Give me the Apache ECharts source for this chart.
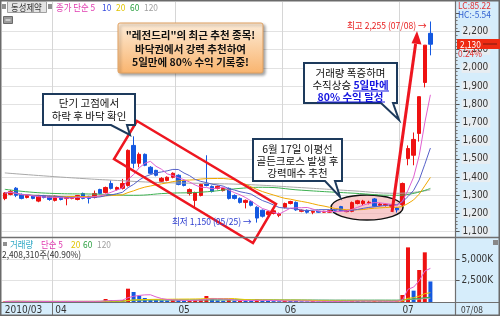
<!DOCTYPE html>
<html><head><meta charset="utf-8">
<script src="https://cdn.jsdelivr.net/npm/echarts@6/dist/echarts.min.js"></script>
<style>html,body{margin:0;padding:0;background:#fff}#c{width:500px;height:316px}</style>
</head><body><div id="c"></div><script>
// ---------- data ----------
const dates = ['03/19','03/22','03/23','03/24','03/25','03/26','03/29','03/30','03/31',
 '04/01','04/02','04/05','04/06','04/07','04/08','04/09','04/12','04/13','04/14','04/15','04/16','04/19','04/20','04/21','04/22','04/23','04/26','04/27','04/28','04/29','04/30',
 '05/03','05/04','05/06','05/07','05/10','05/11','05/12','05/13','05/14','05/17','05/18','05/19','05/20','05/24','05/25','05/26','05/27','05/28','05/31',
 '06/01','06/03','06/04','06/07','06/08','06/09','06/10','06/11','06/14','06/15','06/16','06/17','06/18','06/21','06/22','06/23','06/24','06/25','06/28','06/29','06/30',
 '07/01','07/02','07/05','07/06','07/07','07/08'];
const opens  = [1282,1305,1339,1305,1288,1299,1268,1299,1294,1272,1290,1282,1283,1277,1310,1294,1288,1332,1315,1365,1332,1338,1354,1574,1476,1525,1454,1437,1377,1382,1399,1410,1382,1310,1272,1299,1365,1349,1338,1326,1338,1299,1283,1261,1266,1234,1218,1195,1200,1190,1234,1255,1261,1212,1218,1207,1212,1207,1207,1215,1238,1210,1212,1255,1255,1258,1280,1245,1245,1240,1230,1250,1502,1520,1640,1920,2190];
const closes = [1313,1320,1300,1283,1299,1283,1299,1288,1277,1294,1277,1288,1290,1299,1283,1283,1310,1310,1343,1338,1343,1365,1547,1476,1525,1465,1421,1410,1393,1399,1421,1360,1354,1332,1315,1360,1354,1321,1349,1338,1283,1283,1261,1272,1245,1175,1185,1210,1215,1200,1255,1266,1220,1218,1207,1212,1207,1212,1215,1210,1215,1215,1260,1270,1268,1262,1240,1252,1250,1248,1220,1365,1557,1607,1842,2125,2130];
const highs  = [1318,1330,1345,1310,1302,1302,1302,1302,1299,1299,1294,1292,1294,1302,1315,1297,1326,1336,1348,1382,1348,1390,1552,1624,1535,1530,1460,1440,1400,1404,1426,1415,1388,1338,1320,1365,1520,1354,1354,1343,1343,1305,1288,1277,1272,1240,1222,1215,1220,1205,1260,1270,1266,1222,1222,1215,1215,1215,1218,1218,1242,1220,1266,1275,1275,1270,1285,1258,1255,1252,1235,1370,1574,1645,1842,2125,2255];
const lows   = [1273,1300,1290,1278,1283,1278,1262,1283,1270,1266,1272,1245,1278,1272,1278,1255,1283,1305,1310,1332,1326,1332,1348,1448,1454,1460,1415,1404,1371,1377,1393,1355,1349,1299,1228,1294,1349,1315,1332,1321,1277,1277,1255,1228,1239,1150,1178,1190,1195,1180,1228,1250,1215,1207,1200,1196,1204,1204,1204,1207,1212,1207,1207,1250,1245,1250,1236,1240,1238,1232,1205,1240,1465,1465,1595,1893,2069];
const volumes = [60,80,90,70,50,60,80,60,70,60,50,90,60,70,80,60,90,100,350,230,150,230,1560,1170,740,470,310,300,200,180,220,210,150,180,250,300,700,430,200,150,220,150,180,160,150,300,180,120,100,90,150,130,120,80,70,90,60,70,60,80,90,70,150,130,100,80,120,90,80,70,100,820,6400,1330,3750,5820,2408];
// 60- and 120-day averages (need history before the window)
const ma60Idx  = [0,8,17,23,29,35,42,46,53,62,70,76];
const ma60Val  = [1333,1311,1306,1300,1311,1317,1338,1344,1328,1312,1300,1338];
const ma120Idx = [0,11,21,28,36,44,53,62,70,76];
const ma120Val = [1423,1398,1380,1370,1365,1358,1342,1325,1311,1330];
const tickIdx  = [0,9,31,50,71];
const tickText = ['2010/03','04','05','06','07'];
const padCats  = ['_a','_b','_c','_d'];

// ---------- build ----------
const F = "'Noto Sans CJK KR','Noto Sans',sans-serif";
const FN = "'Liberation Sans Narrow','DejaVu Sans Condensed','Noto Sans CJK KR',sans-serif";
const cats = dates.concat(padCats);
const ohlc = dates.map((d,i)=>[opens[i],closes[i],lows[i],highs[i]]);
function ma(arr,n){return arr.map((_,i)=>{const s=Math.max(0,i-n+1);let t=0;for(let j=s;j<=i;j++)t+=arr[j];return +(t/(i-s+1)).toFixed(1);});}
const UP='#ee1111', DN='#1458e0';
const volData = volumes.map((v,i)=>({value:v,itemStyle:{color:(i>0&&v<volumes[i-1])?DN:UP}}));
const line=(name,data,color,xi,yi,extra)=>Object.assign({type:'line',name,data,xAxisIndex:xi,yAxisIndex:yi,symbol:'none',silent:true,lineStyle:{width:1,color},itemStyle:{color}},extra||{});
const monthSplit = (i)=>tickIdx.indexOf(i)>0;

const chart = echarts.init(document.getElementById('c'));
const t=(x,y,text,fill,size,o)=>{o=o||{};return Object.assign({type:'text',x,y,z:60,silent:true,scaleX:o.sx||1,style:Object.assign({text,fill,fontSize:size,fontFamily:o.ff||F,verticalAlign:'middle'},o.style||{})},o.el||{});};
const H={sx:0.88};

const graphic = [
  {type:'rect',z:-10,shape:{x:456,y:0,width:44,height:316},style:{fill:'#d6edfb'}},
  {type:'rect',z:-10,shape:{x:0,y:303,width:500,height:13},style:{fill:'#d6edfb'}},
  {type:'line',z:40,shape:{x1:0,y1:237.5,x2:500,y2:237.5},style:{stroke:'#707070',lineWidth:1.5}},
  {type:'line',z:40,shape:{x1:0,y1:302.5,x2:500,y2:302.5},style:{stroke:'#707070',lineWidth:1.2}},
  {type:'line',z:40,shape:{x1:455.5,y1:0,x2:455.5,y2:316},style:{stroke:'#707070',lineWidth:1.2}},
  {type:'line',z:40,shape:{x1:52.5,y1:303,x2:52.5,y2:316},style:{stroke:'#707070',lineWidth:1}},
  {type:'rect',z:40,shape:{x:0.75,y:0.75,width:498.5,height:314.5},style:{fill:'none',stroke:'#6a6a6a',lineWidth:1.5}},
  // header
  {type:'rect',z:55,shape:{x:2,y:4,width:4,height:5},style:{fill:'#909090'}},
  {type:'rect',z:55,shape:{x:7.5,y:1.5,width:39,height:11},style:{fill:'#e4e4e4',stroke:'#a0a0a0',lineWidth:1}},
  t(11,7.5,'동성제약','#333',9.5,H),
  {type:'rect',z:55,shape:{x:48,y:4,width:4,height:5},style:{fill:'#909090'}},
  t(56,7.5,'종가 단순 5','#e03cb0',9.5,H),
  t(102,7.5,'10','#3a4fe0',9.5,H),
  t(116,7.5,'20','#e0c400',9.5,H),
  t(130,7.5,'60','#2aa040',9.5,H),
  t(144,7.5,'120','#a0a0a0',9.5,H),
  {type:'rect',z:55,shape:{x:3.5,y:16.5,width:9,height:7},style:{fill:'#9a9a9a',stroke:'#6a6a6a',lineWidth:1}},
  {type:'line',z:56,shape:{x1:5.5,y1:20,x2:10.5,y2:20},style:{stroke:'#fff',lineWidth:1}},
  // volume header
  {type:'rect',z:55,shape:{x:3,y:242,width:4,height:4},style:{fill:'#909090'}},
  t(10,244.5,'거래량','#2aa6c4',9.5,H),
  t(41,244.5,'단순 5','#e03cb0',9.5,H),
  t(71,244.5,'20','#e0c400',9.5,H),
  t(83,244.5,'60','#2aa040',9.5,H),
  t(97,244.5,'120','#a0a0a0',9.5,H),
  t(2,254.5,'2,408,310주(40.90%)','#333',9.5,H),
  {type:'rect',z:55,shape:{x:493,y:240,width:5,height:5},style:{fill:'#888'}},
  // top right
  t(458,5,'LC:85.22','#e03030',9.5,H),
  t(458,14.5,'HC:-5.54','#3060d0',9.5,H),
  {type:'rect',z:55,shape:{x:457,y:39,width:43,height:10},style:{fill:'#ee2a12'}},
  t(460,44,'2,130','#ffffff',9.5,H),
  {type:'line',z:61,shape:{x1:483,y1:44,x2:497,y2:44},style:{stroke:'#7a1a10',lineWidth:1}},
  t(458,53.5,'0.24%','#e03030',9.5,H),
  t(461,309.5,'07/08','#333',9.5,H),
  // highest / lowest marks
  t(347,25,'최고 2,255 (07/08) →','#e82020',9.5,{sx:0.9}),
  t(172,221,'최저 1,150 (05/25) →','#3040d0',9.5,{sx:0.9}),
  // ellipse around golden cross
  {type:'ellipse',z:1,shape:{cx:367,cy:207.5,rx:36,ry:12.5},style:{fill:'rgba(244,170,170,0.6)',stroke:'#111',lineWidth:1.5}},
  // red falling channel
  {type:'polygon',z:30,shape:{points:[[137,121],[276,204],[253,243],[114,159]]},style:{fill:'none',stroke:'#ee1620',lineWidth:2.5}},
  // red arrow
  {type:'line',z:30,shape:{x1:392,y1:212,x2:415.6,y2:44},style:{stroke:'#ee1620',lineWidth:3}},
  {type:'polygon',z:30,shape:{points:[[417,31],[421.5,44.5],[411.5,43.3]]},style:{fill:'#ee1620'}},
  // orange callout
  {type:'rect',z:45,shape:{x:118,y:23,width:145,height:50,r:2},style:{fill:new echarts.graphic.LinearGradient(0,0,0,1,[{offset:0,color:'#fdecd8'},{offset:1,color:'#f9b46e'}]),stroke:'#e0a060',lineWidth:1,shadowBlur:3,shadowOffsetX:2,shadowOffsetY:2,shadowColor:'rgba(0,0,0,0.35)'}},
  t(190.5,35.5,'"레전드리"의 최근 추천 종목!','#111',10.5,{style:{align:'center',fontWeight:'bold'}}),
  t(190.5,49,'바닥권에서 강력 추천하여','#111',10.5,{style:{align:'center',fontWeight:'bold'}}),
  t(190.5,62.5,'5일만에 80% 수익 기록중!','#111',10.5,{style:{align:'center',fontWeight:'bold'}}),
  // callout: 단기 고점
  {type:'polygon',z:45,shape:{points:[[43,94],[135,94],[135,125],[127,125],[130,135],[111,125],[43,125]]},style:{fill:'#fff',stroke:'#1d3a5c',lineWidth:2}},
  t(89,103.5,'단기 고점에서','#111',10.5,{style:{align:'center'}}),
  t(89,116.5,'하락 후 바닥 확인','#111',10.5,{style:{align:'center'}}),
  // callout: 거래량 폭증
  {type:'polygon',z:45,shape:{points:[[304,63],[397,63],[397,103],[393,103],[399,120],[381,103],[304,103]]},style:{fill:'#fff',stroke:'#1d3a5c',lineWidth:2}},
  t(350.5,73.5,'거래량 폭증하며','#111',10.5,{style:{align:'center'}}),
  t(350.5,85.5,'수직상승 {b|5일만에}','#111',10.5,{style:{align:'center',rich:{b:{fill:'#1414e0',fontWeight:'bold',fontSize:10.5,fontFamily:F}}}}),
  t(350.5,97,'80% 수익 달성','#1414e0',10.5,{style:{align:'center',fontWeight:'bold'}}),
  {type:'line',z:61,shape:{x1:353,y1:91,x2:389,y2:91},style:{stroke:'#1414e0',lineWidth:1}},
  {type:'line',z:61,shape:{x1:317,y1:102,x2:385,y2:102},style:{stroke:'#1414e0',lineWidth:1}},
  // callout: 6월 17일
  {type:'polygon',z:45,shape:{points:[[253,139],[342,139],[342,181],[335,181],[340,197],[325,181],[253,181]]},style:{fill:'#fff',stroke:'#1d3a5c',lineWidth:2}},
  t(297.5,149.5,'6월 17일 이평선','#111',10.5,{style:{align:'center'}}),
  t(297.5,161.5,'골든크로스 발생 후','#111',10.5,{style:{align:'center'}}),
  t(297.5,173,'강력매수 추천','#111',10.5,{style:{align:'center'}})
];

const option = {
  animation:false,
  textStyle:{fontFamily:F},
  grid:[
    {left:2,width:453.6,top:13.3,height:218.4},
    {left:2,width:453.6,top:238,height:64},
    {left:2,width:453.6,top:2,height:235}
  ],
  xAxis:[
    {type:'category',gridIndex:0,data:cats,boundaryGap:true,axisLine:{show:false},axisTick:{show:false},axisLabel:{show:false},splitLine:{show:false}},
    {type:'category',gridIndex:1,data:cats,boundaryGap:true,axisLine:{show:false},
      axisTick:{show:false},
      axisLabel:{show:true,interval:(i)=>tickIdx.indexOf(i)>=0,formatter:(v,i)=>tickText[tickIdx.indexOf(i)],align:'left',margin:3,fontSize:10,color:'#333',fontFamily:FN},
      splitLine:{show:true,interval:monthSplit,lineStyle:{color:'#d6d6d6',width:1}}},
    {type:'category',gridIndex:2,data:cats,boundaryGap:true,axisLine:{show:false},axisTick:{show:false},axisLabel:{show:false},
      splitLine:{show:true,interval:monthSplit,lineStyle:{color:'#d6d6d6',width:1}}}
  ],
  yAxis:[
    {type:'value',gridIndex:0,position:'right',min:1100,max:2300,interval:100,
      axisLine:{show:false},axisTick:{show:true,inside:false,length:4,lineStyle:{color:'#555'}},
      minorTick:{show:true,splitNumber:5,length:2,lineStyle:{color:'#777'}},
      axisLabel:{showMaxLabel:false,margin:6,fontSize:10,color:'#333',fontFamily:FN,backgroundColor:'#e8edf1',padding:[0,2,0,1],formatter:(v)=>v.toLocaleString('en-US')},
      splitLine:{show:true,showMaxLine:false,lineStyle:{color:'#e2e2e2',width:1}}},
    {type:'value',gridIndex:1,position:'right',min:0,max:7500,interval:2500,
      axisLine:{show:false},axisTick:{show:true,length:4,lineStyle:{color:'#555'}},
      axisLabel:{showMinLabel:false,showMaxLabel:false,margin:6,fontSize:10,color:'#333',fontFamily:FN,formatter:(v)=>v.toLocaleString('en-US')+'K'},
      splitLine:{show:true,showMaxLine:false,showMinLine:false,lineStyle:{color:'#e2e2e2',width:1}}},
    {type:'value',gridIndex:2,show:false,min:0,max:1}
  ],
  series:[
    line('MA120',ma120Idx.map((x,k)=>[x,ma120Val[k]]),'#a8a8a8',0,0,{smooth:true}),
    line('MA60',ma60Idx.map((x,k)=>[x,ma60Val[k]]),'#3cb050',0,0,{smooth:true}),
    line('MA20',ma(closes,20),'#f0a800',0,0),
    line('MA10',ma(closes,10),'#5560c8',0,0),
    line('MA5',ma(closes,5),'#e060d0',0,0),
    {type:'candlestick',xAxisIndex:0,yAxisIndex:0,data:ohlc,barWidth:4,silent:true,
      itemStyle:{color:UP,color0:DN,borderColor:UP,borderColor0:DN,borderWidth:1}},
    {type:'bar',xAxisIndex:1,yAxisIndex:1,data:volData,barWidth:4,silent:true},
    line('V120',ma(volumes,120),'#a8a8a8',1,1),
    line('V60',ma(volumes,60),'#3cb050',1,1),
    line('V20',ma(volumes,20),'#e8c800',1,1),
    line('V5',ma(volumes,5),'#e060d0',1,1)
  ],
  graphic:graphic
};
chart.setOption(option);
</script></body></html>
